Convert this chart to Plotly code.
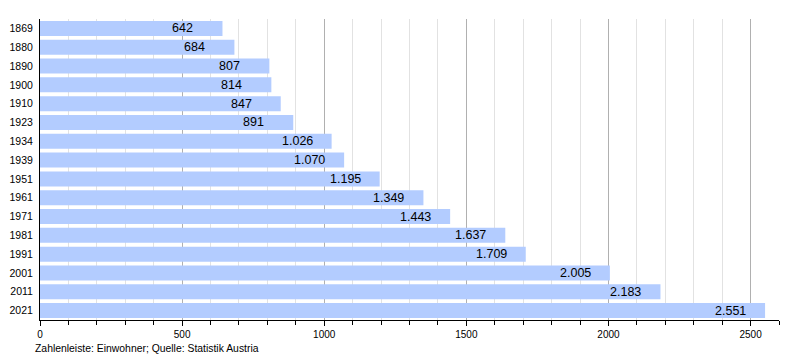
import plotly.graph_objects as go

years = ["1869", "1880", "1890", "1900", "1910", "1923", "1934", "1939",
         "1951", "1961", "1971", "1981", "1991", "2001", "2011", "2021"]
population = [642, 684, 807, 814, 847, 891, 1026, 1070,
              1195, 1349, 1443, 1637, 1709, 2005, 2183, 2551]
x_ticks = [0, 500, 1000, 1500, 2000, 2500]
footer = "Zahlenleiste: Einwohner; Quelle: Statistik Austria"

FONT = "Liberation Sans, Arial, sans-serif"


def de_format(v):
    return f"{v:,}".replace(",", ".")


fig = go.Figure(go.Bar(
    x=population, y=years, orientation="h",
    marker=dict(color="#b3ccff", line=dict(width=0)),
    hoverinfo="x+y",
))

for i, v in enumerate(population):
    fig.add_annotation(x=v, y=i, xref="x", yref="y", text=de_format(v),
                       showarrow=False, xanchor="left", xshift=-52,
                       font=dict(family=FONT, size=12.5, color="black"))

fig.add_annotation(x=0, y=0, xref="paper", yref="paper", text=footer,
                   showarrow=False, xanchor="left", yanchor="top",
                   xshift=-7, yshift=-21,
                   font=dict(family=FONT, size=10.4, color="black"))

n = len(years)
fig.update_layout(
    width=792, height=352,
    margin=dict(l=32, r=21, t=11, b=40),
    paper_bgcolor="white", plot_bgcolor="white",
    bargap=0.2, showlegend=False,
    font=dict(family=FONT, size=10, color="black"),
    xaxis=dict(range=[0, 2600], tickvals=x_ticks, ticktext=[str(t) for t in x_ticks],
               showgrid=True, gridcolor="#b0b0b0", gridwidth=1,
               ticks="outside", ticklen=5, tickcolor="black", tickwidth=1,
               showline=True, linecolor="black", linewidth=1,
               zeroline=False, fixedrange=True, automargin=False,
               tickfont=dict(family=FONT, size=10, color="black"),
               minor=dict(dtick=100, tick0=0, showgrid=True, gridcolor="#e2e2e2",
                          ticks="outside", ticklen=4, tickcolor="black")),
    yaxis=dict(type="category", range=[n - 0.5, -0.5], autorange=False,
               showgrid=False, showline=True, linecolor="black", linewidth=1,
               ticks="", ticklabelstandoff=4, automargin=False, fixedrange=True,
               tickfont=dict(family=FONT, size=10.5, color="black")),
)

fig.write_html("out.html")
